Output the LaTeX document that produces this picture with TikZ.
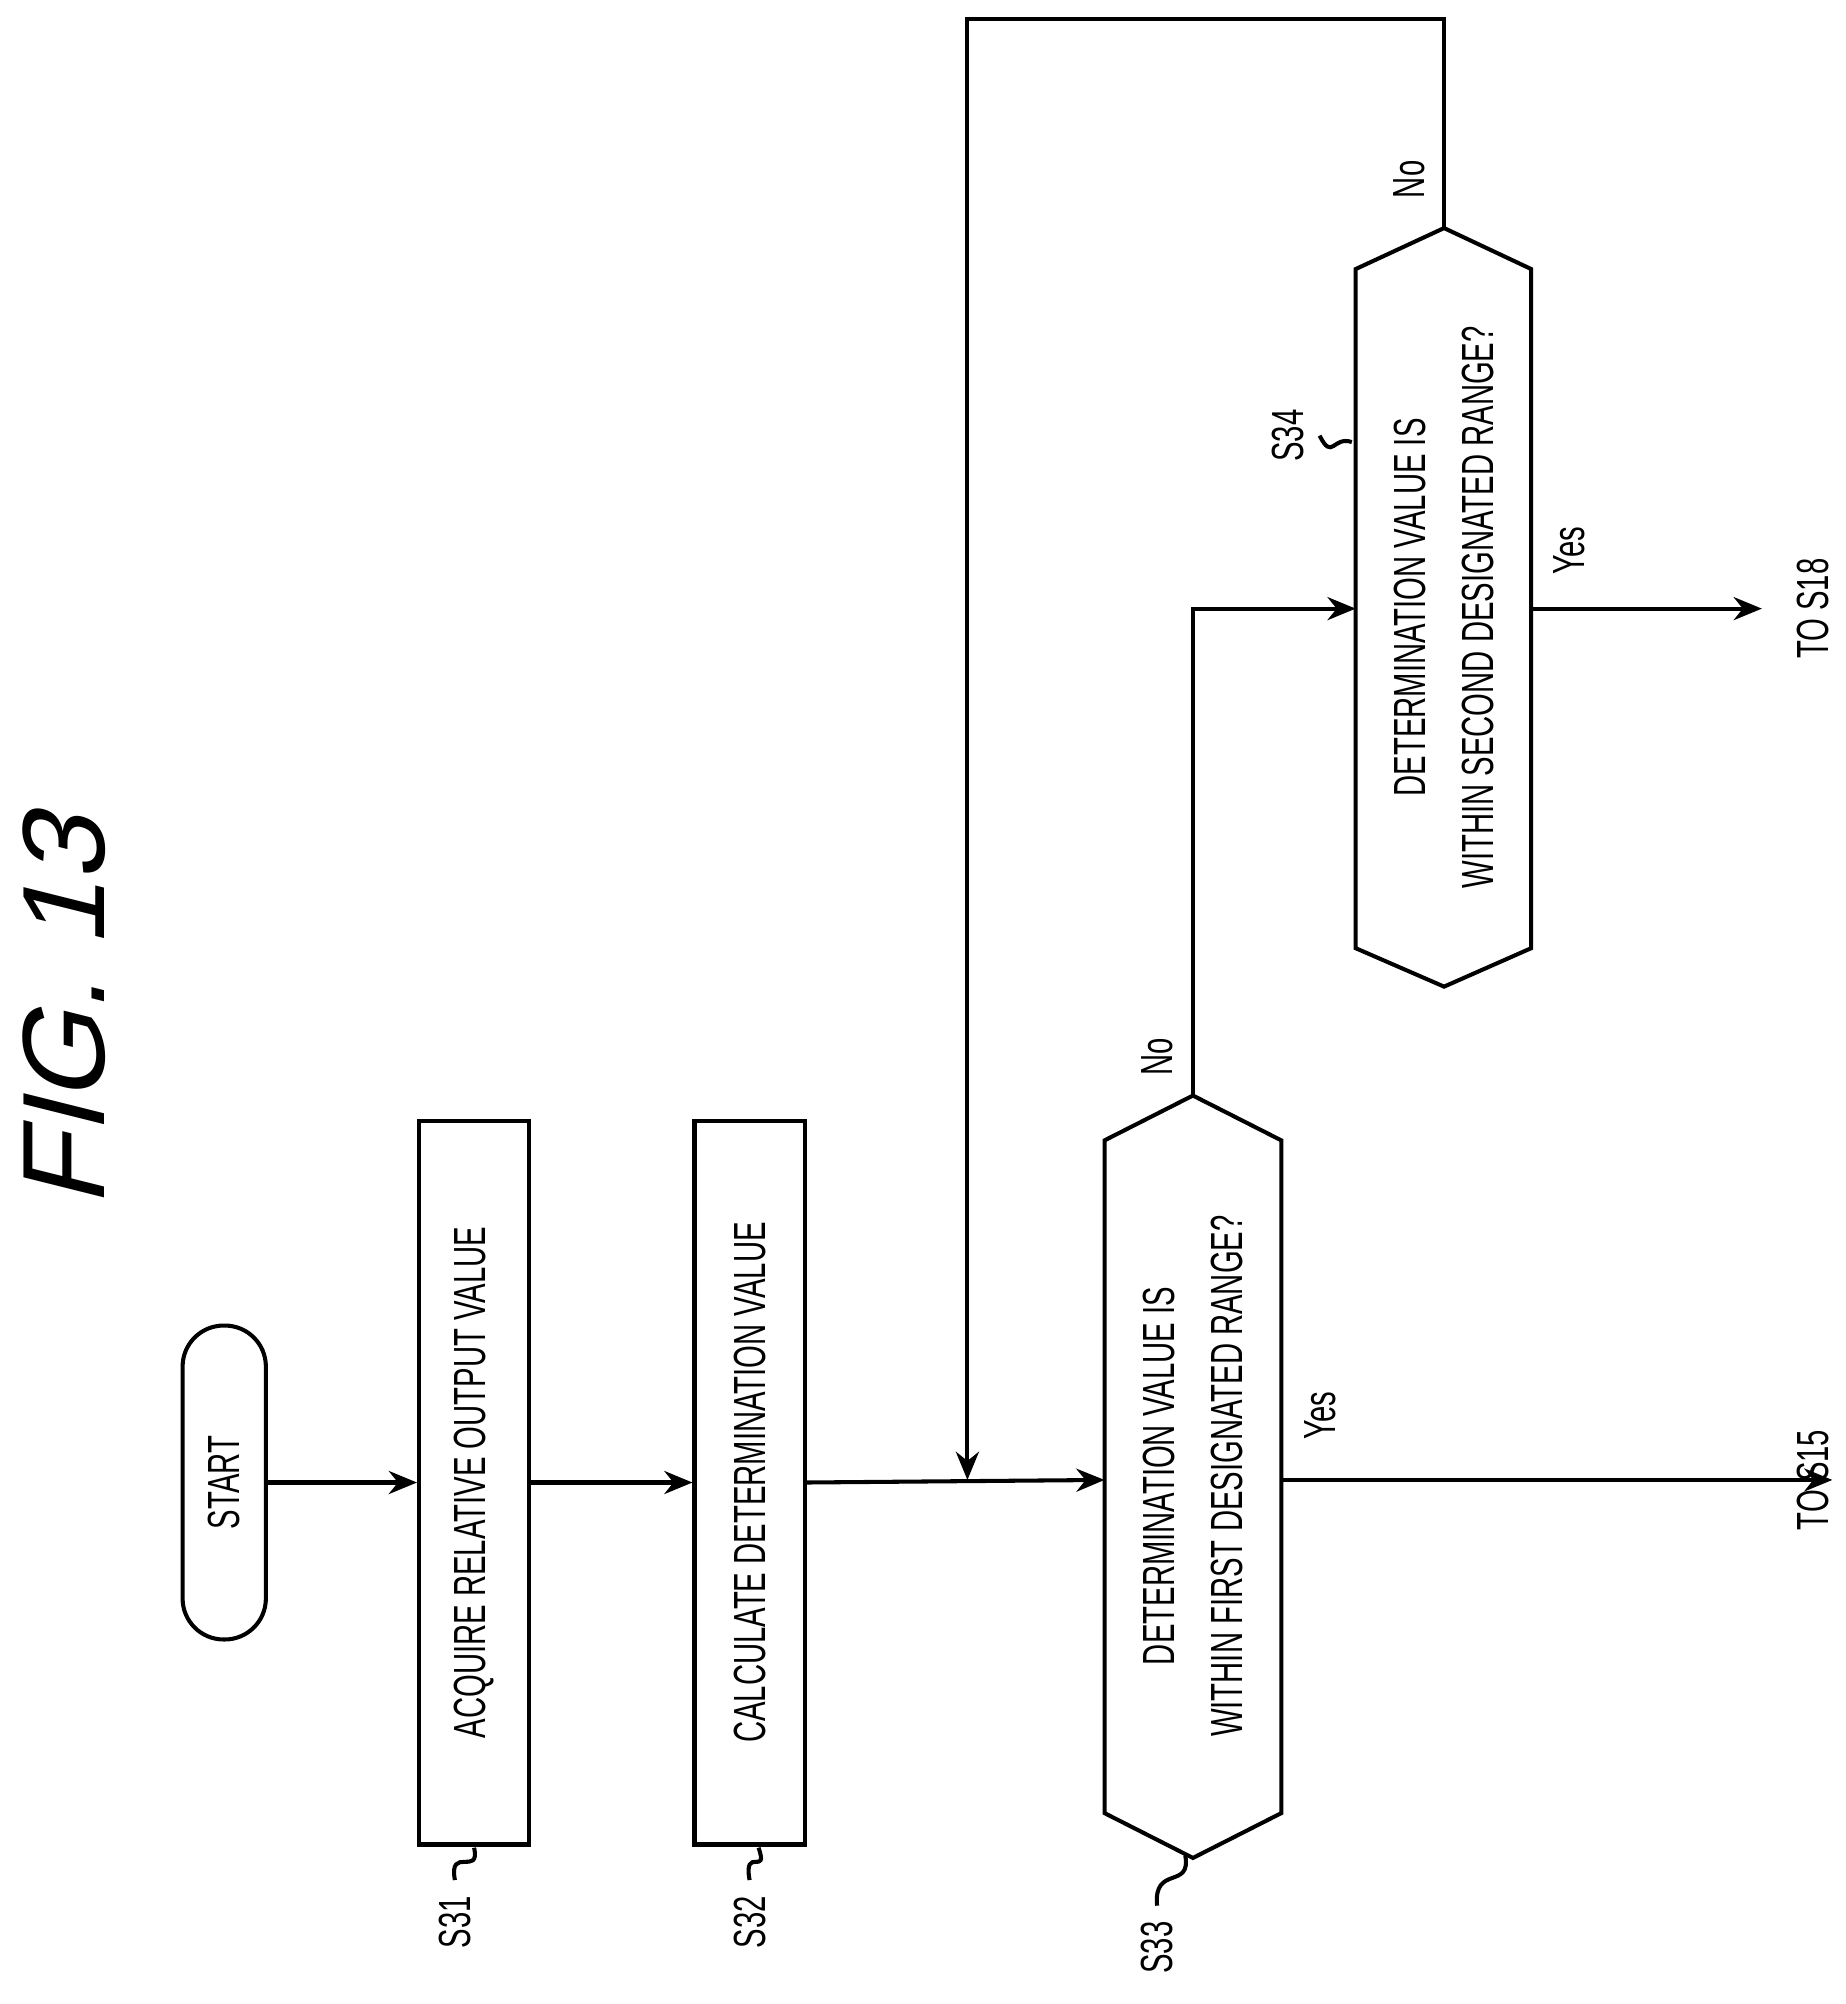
\documentclass[tikz,border=0pt]{standalone}
\usepackage{fontspec}
\setmainfont{Liberation Sans}[FakeStretch=0.65]
\newfontfamily\figfont{Liberation Sans}[FakeSlant=0.25]
\usetikzlibrary{arrows.meta}
\begin{document}
\begin{tikzpicture}[x=0.1mm,y=-0.1mm,
  line/.style={line width=0.9pt},
  arr/.style={line, -{Stealth[length=2.2mm,width=1.8mm]}},
  txt/.style={rotate=90,font=\fontsize{10}{15}\selectfont,align=center},
  lab/.style={rotate=90,font=\fontsize{10}{12}\selectfont}]
\useasboundingbox (0,0) rectangle (1440,1564);
\node[rotate=90,font=\figfont\fontsize{26}{30}\selectfont] (fig) at (50,790) {FIG.\ 13};
% start
\node[txt,draw,line,rounded corners=3.2mm,minimum width=24.5mm,minimum height=6.5mm] (start) at (175,1157) {START};
\node[txt,draw,line,minimum width=56.5mm,minimum height=8.6mm] (s31) at (370,1157) {ACQUIRE RELATIVE OUTPUT VALUE};
\node[txt,draw,line,minimum width=56.5mm,minimum height=8.6mm] (s32) at (585,1157) {CALCULATE DETERMINATION VALUE};
% S33 hexagon
\draw[line] (862,890) -- (931,855) coordinate (s33t) -- (1000,890) -- (1000,1415) -- (931,1450) -- (862,1415) -- cycle;
\coordinate (s33l) at (862,1155); \coordinate (s33r) at (1000,1155);
\node[txt] (s33) at (931,1152) {DETERMINATION VALUE IS\\WITHIN FIRST DESIGNATED RANGE?};
% S34 hexagon
\draw[line] (1058,210) -- (1127,178) coordinate (s34t) -- (1195,210) -- (1195,740) -- (1127,770) -- (1058,740) -- cycle;
\coordinate (s34l) at (1058,475); \coordinate (s34r) at (1195,475);
\node[txt] (s34) at (1127,474) {DETERMINATION VALUE IS\\WITHIN SECOND DESIGNATED RANGE?};
% connectors
\draw[arr] (start.south) -- (s31.north);
\draw[arr] (s31.south) -- (s32.north);
\draw[arr] (s32.south) -- (s33l);
\coordinate (to15) at (1430,1155);
\coordinate (to18) at (1375,475);
\draw[arr] (s33r) -- (to15);
\draw[arr] (s34r) -- (to18);
\coordinate (n1) at (931,475);
\draw[arr] (s33t) -- (n1) -- (s34l);
\coordinate (n2) at (1127,15); \coordinate (n3) at (755,15); \coordinate (n4) at (755,1155);
\draw[arr] (s34t) -- (n2) -- (n3) -- (n4);
% labels
\node[lab] (y1) at (1030,1105) {Yes};
\node[lab] (no1) at (903,825) {No};
\node[lab] (y2) at (1225,430) {Yes};
\node[lab] (no2) at (1100,140) {No};
\node[lab] (t15) at (1415,1155) {TO S15};
\node[lab] (t18) at (1415,475) {TO S18};
\node[lab] (l31) at (355,1500) {S31};
\node[lab] (l32) at (585,1500) {S32};
\node[lab] (l33) at (903,1520) {S33};
\node[lab] (l34) at (1005,340) {S34};
\draw[line] (l31.east) .. controls (350,1440) and (375,1465) .. (370,1442);
\draw[line] (l32.east) .. controls (580,1440) and (600,1465) .. (592,1442);
\draw[line] (l33.east) .. controls (900,1455) and (930,1475) .. (925,1448);
\draw[line] (l34.south) .. controls (1040,360) and (1040,340) .. (1055,345);
\end{tikzpicture}
\end{document}
